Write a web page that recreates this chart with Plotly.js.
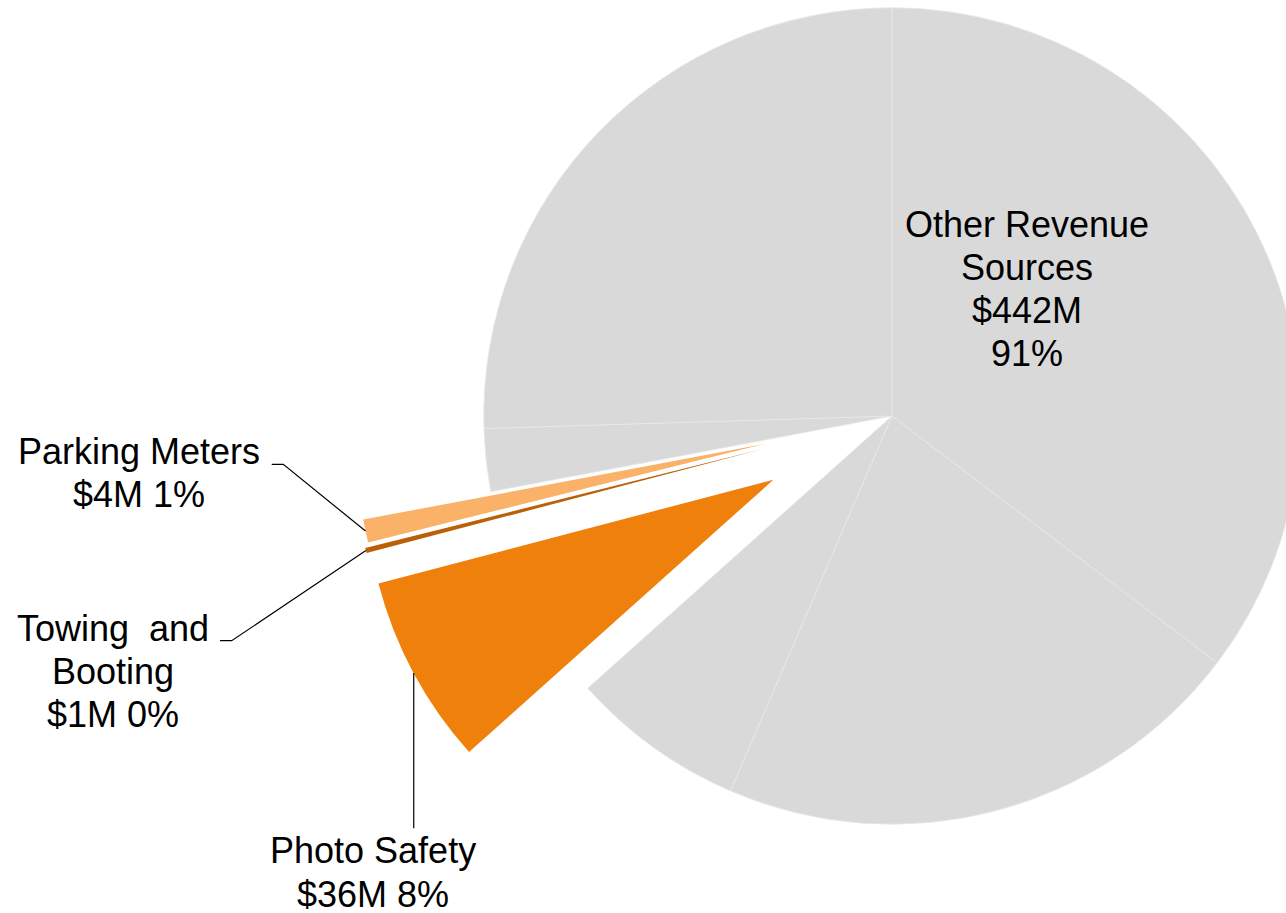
<!DOCTYPE html>
<html>
<head>
<meta charset="utf-8">
<script src="https://cdn.plot.ly/plotly-3.0.1.min.js"></script>
<style>
  html, body { margin: 0; padding: 0; width: 1286px; height: 913px; overflow: hidden; background: #ffffff; }
  #chart { position: absolute; left: 0; }
</style>
</head>
<body>
<div id="chart"></div>
<script>
// ---------------- DATA ($ millions) ----------------
const categories = [
  'Other Revenue Sources (part 1)',
  'Other Revenue Sources (part 2)',
  'Other Revenue Sources (part 3)',
  'Photo Safety',
  'Towing and Booting',
  'Parking Meters',
  'Other Revenue Sources (part 4)',
  'Other Revenue Sources (part 5)'
];
const revenueM = [170.8, 102.2, 33.4, 36.4, 1.0, 4.4, 12.0, 123.2];

// label texts as printed on the chart
const otherLabel   = ['Other Revenue', 'Sources', '$442M', '91%'];
const parkingLabel = ['Parking Meters', '$4M 1%'];
const towingLabel  = ['Towing\u00a0 and', 'Booting', '$1M 0%'];
const photoLabel   = ['Photo Safety', '$36M 8%'];

// ---------------- STYLE ----------------
const GRAY = '#d9d9d9';
const sliceColors = [GRAY, GRAY, GRAY, '#f0800c', '#bb6008', '#f9b268', GRAY, GRAY];
const slicePull   = [0, 0, 0, 0.33, 0.33, 0.32, 0, 0];
const lineColors  = ['#e8e8e8', '#e8e8e8', '#e8e8e8', '#f0800c', '#bb6008', '#f9b268', '#e8e8e8', '#e8e8e8'];
const lineWidths  = [0.8, 0.8, 0.8, 0, 0, 0, 0.8, 0.8];
const FONT = 'Liberation Sans, Arial, Helvetica, sans-serif';
const FSIZE = 36;

// ---------------- GEOMETRY (page layout) ----------------
const CX = 892, CY = 416, HALF = 543;           // pie centre in the window, half pie box
const TOP = CY - HALF;                          // graph div offset (pie box taller than window)
const ML = CX - HALF;
const W = CX + HALF, H = 2 * HALF;
const maxPull = Math.max(...slicePull);
const R = HALF / (1 + maxPull);                 // radius Plotly will use

const chartDiv = document.getElementById('chart');
chartDiv.style.top = TOP + 'px';
chartDiv.style.width = W + 'px';
chartDiv.style.height = H + 'px';

function pxX(x) { return (x - ML) / (W - ML); }
function pxY(y) { return 1 - (y - TOP) / H; }

// point on the outer arc of a (pulled) slice, at its middle angle
const total = revenueM.reduce((a, b) => a + b, 0);
function arcMid(i) {
  let cum = 0;
  for (let j = 0; j < i; j++) cum += revenueM[j];
  const phi = (cum + revenueM[i] / 2) / total * 2 * Math.PI; // clockwise from 12 o'clock
  const d = (1 + slicePull[i]) * R;
  return [CX + d * Math.sin(phi), CY - d * Math.cos(phi)];
}

// ---------------- LABELS ----------------
const annotations = [];
function addBlock(lines, cx, baseline0, step) {
  lines.forEach((t, k) => {
    annotations.push({
      xref: 'paper', yref: 'paper',
      x: pxX(cx), y: pxY(baseline0 + k * step - 0.347 * FSIZE),
      xanchor: 'center', yanchor: 'middle',
      text: t, showarrow: false,
      font: { family: FONT, size: FSIZE, color: '#000000' }
    });
  });
}
addBlock(otherLabel, 1026.5, 236.7, 43.1);
addBlock(parkingLabel, 139, 464.3, 43);
addBlock(towingLabel, 113.3, 640.7, 43);
addBlock(photoLabel, 372.5, 862.7, 44);

// ---------------- LEADER LINES ----------------
function pathOf(pts) {
  return pts.map((p, k) => (k ? 'L' : 'M') + pxX(p[0]).toFixed(5) + ',' + pxY(p[1]).toFixed(5)).join(' ');
}
const iPhoto = categories.indexOf('Photo Safety');
const iTow = categories.indexOf('Towing and Booting');
const iPark = categories.indexOf('Parking Meters');
const pPark = arcMid(iPark), pTow = arcMid(iTow), pPhoto = arcMid(iPhoto);
const leader = { color: '#000000', width: 1.2 };
const shapes = [
  { type: 'path', xref: 'paper', yref: 'paper', path: pathOf([pPark, [283.3, 464.3], [271.7, 464.3]]), line: leader },
  { type: 'path', xref: 'paper', yref: 'paper', path: pathOf([pTow, [231.7, 640.7], [220, 640.7]]), line: leader },
  { type: 'path', xref: 'paper', yref: 'paper', path: pathOf([pPhoto, [pPhoto[0], 828.3]]), line: leader }
];

// ---------------- PLOT ----------------
const trace = {
  type: 'pie',
  labels: categories,
  values: revenueM,
  sort: false,
  direction: 'clockwise',
  rotation: 0,
  pull: slicePull,
  marker: { colors: sliceColors, line: { color: lineColors, width: lineWidths } },
  textinfo: 'none',
  hoverinfo: 'skip',
  showlegend: false
};

const layout = {
  width: W, height: H,
  margin: { l: ML, r: 0, t: 0, b: 0, pad: 0 },
  paper_bgcolor: '#ffffff',
  plot_bgcolor: '#ffffff',
  showlegend: false,
  font: { family: FONT, size: FSIZE, color: '#000000' },
  annotations: annotations,
  shapes: shapes
};

Plotly.newPlot(chartDiv, [trace], layout, { displayModeBar: false, staticPlot: true, responsive: false });
</script>
</body>
</html>
